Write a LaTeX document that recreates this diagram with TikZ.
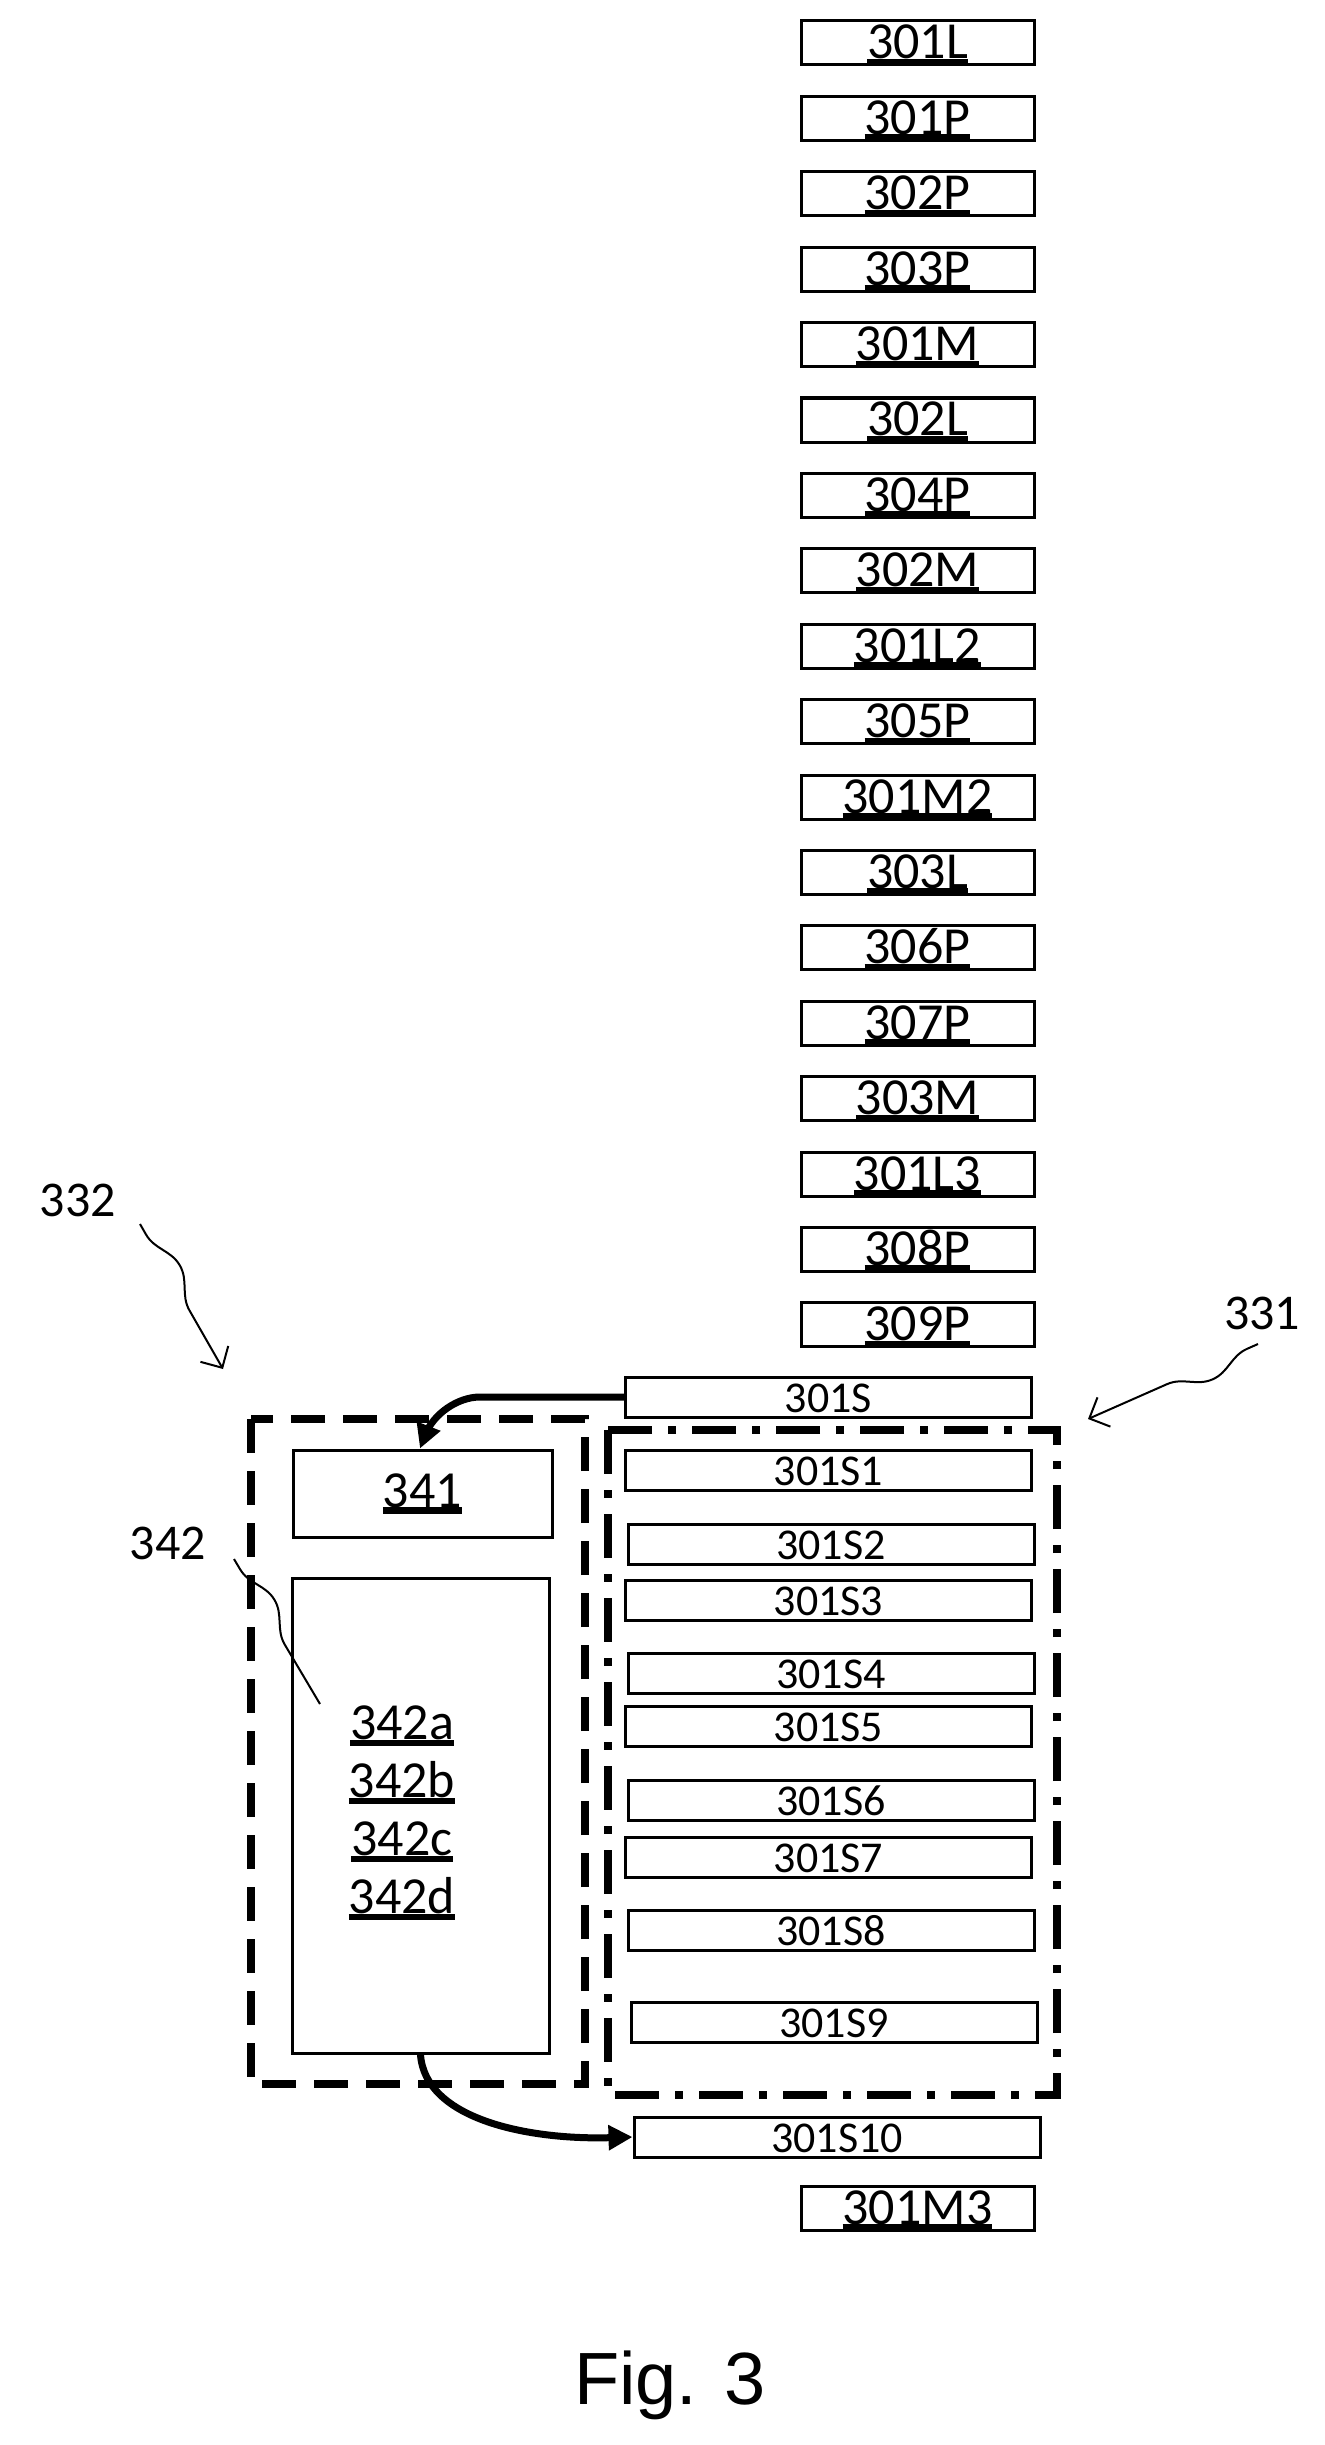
\documentclass[tikz,border=0pt]{standalone}
\usepackage{fontspec}
\setmainfont{Carlito}
\newfontfamily\figfont{Liberation Sans}
\usetikzlibrary{decorations.pathmorphing,arrows.meta}
\newcommand\ulx[1]{\setbox0\hbox{#1}\rlap{\rule[-0.12em]{\wd0}{0.12em}}\box0}
\tikzset{
 tb/.style={draw,line width=1.5pt,minimum width=116.5pt,minimum height=22pt,inner sep=0pt,text height=17pt,text depth=1pt,font=\fontsize{26}{26}\selectfont},
 sb/.style={draw,line width=1.5pt,minimum width=203pt,minimum height=20pt,inner sep=0pt,text height=15.5pt,text depth=0.5pt,font=\fontsize{22}{22}\selectfont},
 lab/.style={font=\fontsize{25}{25}\selectfont},
 wav/.style={line width=1pt,decorate,decoration={snake,amplitude=7pt,segment length=70pt,pre length=6pt,post length=10pt}},
 conn/.style={line width=3.5pt,-{Triangle[length=12pt,width=12pt]}}
}
\begin{document}
\begin{tikzpicture}[x=0.5pt,y=-0.5pt]
\useasboundingbox (0,0) rectangle (1325,2445);
\foreach \t [count=\i from 0] in {301L,301P,302P,303P,301M,302L,304P,302M,301L2,305P,301M2,303L,306P,307P,303M,301L3,308P,309P}{
  \node[tb] (t\i) at (917.5,{43+75.4*\i}) {\ulx{\t}};
}
\node[sb] (s0) at (828.5,1397) {301S};
\node[sb] (s1) at (828.5,1470) {301S1};
\node[sb] (s2) at (831,1544) {301S2};
\node[sb] (s3) at (828.5,1600) {301S3};
\node[sb] (s4) at (831,1673) {301S4};
\node[sb] (s5) at (828.5,1726) {301S5};
\node[sb] (s6) at (831,1800) {301S6};
\node[sb] (s7) at (828.5,1857) {301S7};
\node[sb] (s8) at (831,1930) {301S8};
\node[sb] (s9) at (834,2022) {301S9};
\node[sb] (s10) at (837,2137) {301S10};
\node[tb] (m3) at (917.5,2208) {\ulx{301M3}};
% groups
\draw[line width=4pt,dash pattern=on 17pt off 9pt] (251,1419) rectangle (585,2084);
\draw[line width=4pt,dash pattern=on 22pt off 8pt on 4pt off 8pt] (608,1430) rectangle (1057,2095);
\node[draw,line width=1.5pt,minimum width=129.5pt,minimum height=43.5pt,inner sep=0pt,font=\fontsize{26}{26}\selectfont] (a341) at (422.5,1493.5) {\ulx{341}};
\node[draw,line width=1.5pt,minimum width=128.5pt,minimum height=237.5pt,inner sep=0pt] (a342) at (420.5,1815.5) {};
\node[font=\fontsize{26}{29}\selectfont,align=center] (list) at (402,1813) {\ulx{342a}\\\ulx{342b}\\\ulx{342c}\\\ulx{342d}};
% connectors
\draw[conn,rounded corners=20pt] (s0.west) -- (440,1397) -- (a341.north -| 420,0);
\draw[conn] (a342.south) .. controls (425,2120) and (530,2140) .. (s10.west);
% labels
\node[lab] (l332) at (78,1200) {332};
\node[lab] (l331) at (1262,1313) {331};
\node[lab] (l342) at (168,1543) {342};
\coordinate (c332a) at (140,1224); \coordinate (c332b) at (223,1369);
\coordinate (c331a) at (1258,1344); \coordinate (c331b) at (1088,1419);
\coordinate (c342a) at (234,1559); \coordinate (c342b) at (320,1704);
\draw[wav,-{Straight Barb[length=8pt]}] (c332a) -- (c332b);
\draw[wav,-{Straight Barb[length=8pt]}] (c331a) -- (c331b);
\draw[wav] (c342a) -- (c342b);
\node[font=\figfont\fontsize{37}{37}\selectfont] (fig) at (670,2385) {Fig. 3};
\end{tikzpicture}
\end{document}
